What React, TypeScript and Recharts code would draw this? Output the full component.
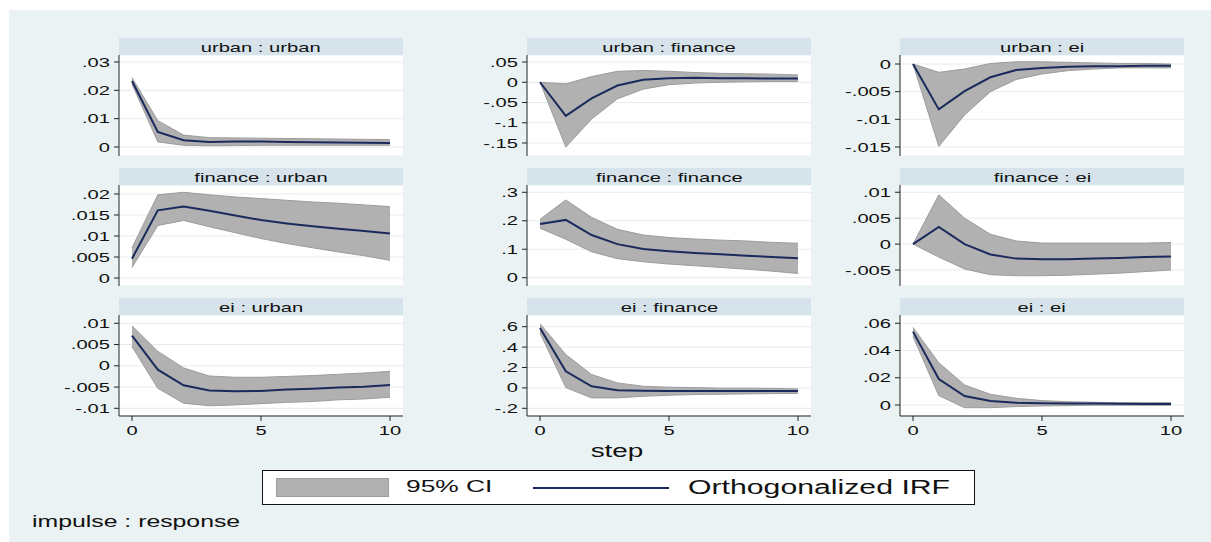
import { ComposedChart, Area, Line, XAxis, YAxis, CartesianGrid } from 'recharts'

const FONT = '"Liberation Sans", Arial, Helvetica, sans-serif'
const SX = 1.55 // the reference is stretched horizontally
const NAVY = '#1b2a5c'
const BAND = '#b1b1b1'
const BAND_EDGE = '#9c9c9c'
const BG = '#eaf2f3'
const STRIP = '#d6e3ea'

const steps = [0, 1, 2, 3, 4, 5, 6, 7, 8, 9, 10]
const xTicks = [0, 5, 10]

// urban : urban
const uuIrf = [0.0233, 0.0053, 0.0024, 0.0018, 0.0019, 0.0019, 0.0018, 0.0017, 0.0016, 0.0015, 0.0014]
const uuLo = [0.0222, 0.0018, 0.0006, 0.0004, 0.0005, 0.0006, 0.0006, 0.0006, 0.0006, 0.0006, 0.0006]
const uuHi = [0.0245, 0.0093, 0.0042, 0.0033, 0.0032, 0.0031, 0.003, 0.0029, 0.0028, 0.0027, 0.0026]

// urban : finance
const ufIrf = [0, -0.083, -0.04, -0.008, 0.006, 0.01, 0.011, 0.01, 0.01, 0.009, 0.009]
const ufLo = [0, -0.16, -0.091, -0.041, -0.017, -0.006, -0.002, 0, 0.001, 0.002, 0.002]
const ufHi = [0, -0.004, 0.014, 0.027, 0.029, 0.027, 0.024, 0.022, 0.021, 0.02, 0.018]

// urban : ei
const ueIrf = [0, -0.0082, -0.0049, -0.0024, -0.0011, -0.0007, -0.0005, -0.0004, -0.0004, -0.0003, -0.0003]
const ueLo = [0, -0.0149, -0.0092, -0.005, -0.0028, -0.0018, -0.0012, -0.0009, -0.0007, -0.0007, -0.0007]
const ueHi = [0, -0.0015, -0.0009, 0.0001, 0.0004, 0.0004, 0.0003, 0.0002, 0.0001, 0.0001, 0]

// finance : urban
const fuIrf = [0.0046, 0.0161, 0.017, 0.016, 0.0149, 0.0138, 0.013, 0.0123, 0.0117, 0.0112, 0.0106]
const fuLo = [0.0025, 0.0125, 0.0137, 0.0122, 0.0108, 0.0094, 0.0082, 0.0072, 0.0062, 0.0053, 0.0042]
const fuHi = [0.0072, 0.0198, 0.0204, 0.0198, 0.0193, 0.0189, 0.0185, 0.0181, 0.0178, 0.0174, 0.017]

// finance : finance
const ffIrf = [0.189, 0.203, 0.15, 0.118, 0.101, 0.093, 0.087, 0.082, 0.077, 0.073, 0.068]
const ffLo = [0.174, 0.135, 0.091, 0.067, 0.056, 0.048, 0.042, 0.036, 0.03, 0.023, 0.015]
const ffHi = [0.205, 0.273, 0.212, 0.17, 0.15, 0.141, 0.136, 0.132, 0.129, 0.124, 0.121]

// finance : ei
const feIrf = [0, 0.0033, 0, -0.002, -0.0028, -0.0029, -0.0029, -0.0028, -0.0027, -0.0025, -0.0024]
const feLo = [0, -0.0025, -0.0048, -0.0059, -0.0061, -0.0061, -0.006, -0.0058, -0.0056, -0.0053, -0.005]
const feHi = [0, 0.0095, 0.005, 0.0019, 0.0006, 0.0002, 0.0002, 0.0002, 0.0002, 0.0002, 0.0003]

// ei : urban
const euIrf = [0.0071, -0.0009, -0.0046, -0.0058, -0.006, -0.0059, -0.0056, -0.0054, -0.0051, -0.0049, -0.0045]
const euLo = [0.0045, -0.0053, -0.0088, -0.0094, -0.0092, -0.0089, -0.0086, -0.0084, -0.008, -0.0078, -0.0074]
const euHi = [0.0094, 0.0034, -0.0005, -0.0024, -0.0027, -0.0027, -0.0025, -0.0023, -0.002, -0.0017, -0.0013]

// ei : finance
const efIrf = [0.588, 0.163, 0.016, -0.023, -0.029, -0.03, -0.03, -0.03, -0.03, -0.03, -0.03]
const efLo = [0.539, 0.003, -0.098, -0.098, -0.082, -0.072, -0.065, -0.062, -0.059, -0.056, -0.055]
const efHi = [0.63, 0.327, 0.131, 0.049, 0.016, 0.007, 0.003, -0.003, -0.003, -0.005, -0.01]

// ei : ei
const eeIrf = [0.0539, 0.0191, 0.0066, 0.0029, 0.0017, 0.0012, 0.001, 0.001, 0.0009, 0.0008, 0.0007]
const eeLo = [0.0502, 0.0069, -0.002, -0.002, -0.0012, -0.0007, -0.0005, -0.0002, -0.0002, -0.0002, -0.0002]
const eeHi = [0.057, 0.031, 0.0147, 0.0078, 0.0049, 0.0032, 0.0024, 0.002, 0.0017, 0.0017, 0.0017]

const panels = [
  { title: 'urban : urban', irf: uuIrf, lo: uuLo, hi: uuHi, ticks: [0, 0.01, 0.02, 0.03], domain: [-0.00318, 0.03247] },
  { title: 'urban : finance', irf: ufIrf, lo: ufLo, hi: ufHi, ticks: [-0.15, -0.1, -0.05, 0, 0.05], domain: [-0.1821, 0.0673] },
  { title: 'urban : ei', irf: ueIrf, lo: ueLo, hi: ueHi, ticks: [-0.015, -0.01, -0.005, 0], domain: [-0.01663, 0.00163] },
  { title: 'finance : urban', irf: fuIrf, lo: fuLo, hi: fuHi, ticks: [0, 0.005, 0.01, 0.015, 0.02], domain: [-0.0019, 0.02214] },
  { title: 'finance : finance', irf: ffIrf, lo: ffLo, hi: ffHi, ticks: [0, 0.1, 0.2, 0.3], domain: [-0.0291, 0.3256] },
  { title: 'finance : ei', irf: feIrf, lo: feLo, hi: feHi, ticks: [-0.005, 0, 0.005, 0.01], domain: [-0.00808, 0.0114] },
  { title: 'ei : urban', irf: euIrf, lo: euLo, hi: euHi, ticks: [-0.01, -0.005, 0, 0.005, 0.01], domain: [-0.01181, 0.01195] },
  { title: 'ei : finance', irf: efIrf, lo: efLo, hi: efHi, ticks: [-0.2, 0, 0.2, 0.4, 0.6], domain: [-0.2755, 0.7147] },
  { title: 'ei : ei', irf: eeIrf, lo: eeLo, hi: eeHi, ticks: [0, 0.02, 0.04, 0.06], domain: [-0.0081, 0.0661] },
]

const colLeft = [119, 527, 900]
const stripTop = [38, 168, 298]
const PLOT_W = 284
const PLOT_H = 101
const STRIP_H = 17
const AXIS_W = 60
const XAXIS_H = 30

// stata style labels: .05, -.15
const fmt = (v: number) => (v === 0 ? '0' : String(v).replace(/^(-?)0\./, '$1.'))

const YTick = (props: any) => {
  const { x, y, payload } = props
  return (
    <g transform={`translate(${x},${y}) scale(${SX},1)`}>
      <text x={0} y={0} dy="0.35em" textAnchor="end" fontSize={13} fill="#111" fontFamily={FONT}>
        {fmt(payload.value)}
      </text>
    </g>
  )
}

const XTick = (props: any) => {
  const { x, y, payload } = props
  return (
    <g transform={`translate(${x},${y}) scale(${SX},1)`}>
      <text x={0} y={0} dy="0.75em" textAnchor="middle" fontSize={13} fill="#111" fontFamily={FONT}>
        {payload.value}
      </text>
    </g>
  )
}

const Stretched = ({ children, size, origin = 'center' }: any) => (
  <span
    style={{
      display: 'inline-block',
      fontSize: size,
      transform: `scaleX(${SX})`,
      transformOrigin: origin,
      whiteSpace: 'nowrap',
    }}
  >
    {children}
  </span>
)

function Panel({ p, idx }: { p: any; idx: number }) {
  const col = idx % 3
  const row = Math.floor(idx / 3)
  const bottom = row === 2
  const left = colLeft[col]
  const top = stripTop[row]
  const data = steps.map((s, i) => ({ step: s, irf: p.irf[i], ci: [p.lo[i], p.hi[i]] }))

  return (
    <>
      <div
        style={{
          position: 'absolute',
          left,
          top,
          width: PLOT_W,
          height: STRIP_H,
          background: STRIP,
          textAlign: 'center',
          lineHeight: `${STRIP_H}px`,
          color: '#111',
        }}
      >
        <Stretched size={13}>{p.title}</Stretched>
      </div>
      <div style={{ position: 'absolute', left, top: top + STRIP_H, width: PLOT_W, height: PLOT_H, background: '#fff' }} />
      <div style={{ position: 'absolute', left: left - AXIS_W, top: top + STRIP_H }}>
        <ComposedChart
          width={AXIS_W + PLOT_W}
          height={PLOT_H + (bottom ? XAXIS_H : 0)}
          data={data}
          margin={{ top: 0, right: 0, bottom: 0, left: 0 }}
        >
          <CartesianGrid vertical={false} stroke="#e4edf0" strokeWidth={1} />
          <XAxis
            dataKey="step"
            type="number"
            domain={[0, 10]}
            ticks={xTicks}
            padding={{ left: 13, right: 13 }}
            hide={!bottom}
            height={XAXIS_H}
            axisLine={{ stroke: '#222' }}
            tickLine={{ stroke: '#222' }}
            tickSize={5}
            tickMargin={4}
            tick={(t: any) => <XTick {...t} />}
          />
          <YAxis
            type="number"
            domain={p.domain}
            ticks={p.ticks}
            allowDataOverflow
            width={AXIS_W}
            axisLine={{ stroke: '#222' }}
            tickLine={{ stroke: '#222' }}
            tickSize={5}
            tickMargin={4}
            interval={0}
            tick={(t: any) => <YTick {...t} />}
          />
          <Area
            dataKey="ci"
            type="linear"
            stroke={BAND_EDGE}
            strokeWidth={1}
            fill={BAND}
            fillOpacity={1}
            isAnimationActive={false}
            dot={false}
            activeDot={false}
          />
          <Line
            dataKey="irf"
            type="linear"
            stroke={NAVY}
            strokeWidth={2}
            dot={false}
            activeDot={false}
            isAnimationActive={false}
          />
        </ComposedChart>
      </div>
    </>
  )
}

export default function App() {
  return (
    <div
      style={{
        position: 'absolute',
        left: 0,
        top: 0,
        width: 1211,
        height: 542,
        background: '#fff',
        fontFamily: FONT,
        overflow: 'hidden',
      }}
    >
      <div style={{ position: 'absolute', left: 9, top: 10, width: 1202, height: 532, background: BG }} />
      {panels.map((p, i) => (
        <Panel key={p.title} p={p} idx={i} />
      ))}

      {/* x title */}
      <div style={{ position: 'absolute', left: 517, top: 441, width: 200, textAlign: 'center', color: '#111' }}>
        <Stretched size={18}>step</Stretched>
      </div>

      {/* legend */}
      <div
        style={{
          position: 'absolute',
          left: 262,
          top: 470,
          width: 713,
          height: 35,
          boxSizing: 'border-box',
          border: '1px solid #111',
          background: '#fff',
          color: '#111',
        }}
      >
        <div
          style={{
            position: 'absolute',
            left: 13,
            top: 7,
            width: 113,
            height: 19,
            boxSizing: 'border-box',
            background: BAND,
            border: `1px solid ${BAND_EDGE}`,
          }}
        />
        <div style={{ position: 'absolute', left: 143, top: 5, lineHeight: '22px' }}>
          <Stretched size={17} origin="left">95% CI</Stretched>
        </div>
        <div style={{ position: 'absolute', left: 270, top: 16, width: 136, height: 2, background: NAVY }} />
        <div style={{ position: 'absolute', left: 425, top: 5, lineHeight: '22px' }}>
          <Stretched size={19.5} origin="left">Orthogonalized IRF</Stretched>
        </div>
      </div>

      <div style={{ position: 'absolute', left: 32, top: 512, lineHeight: '20px', color: '#111' }}>
        <Stretched size={16} origin="left">impulse : response</Stretched>
      </div>
    </div>
  )
}
